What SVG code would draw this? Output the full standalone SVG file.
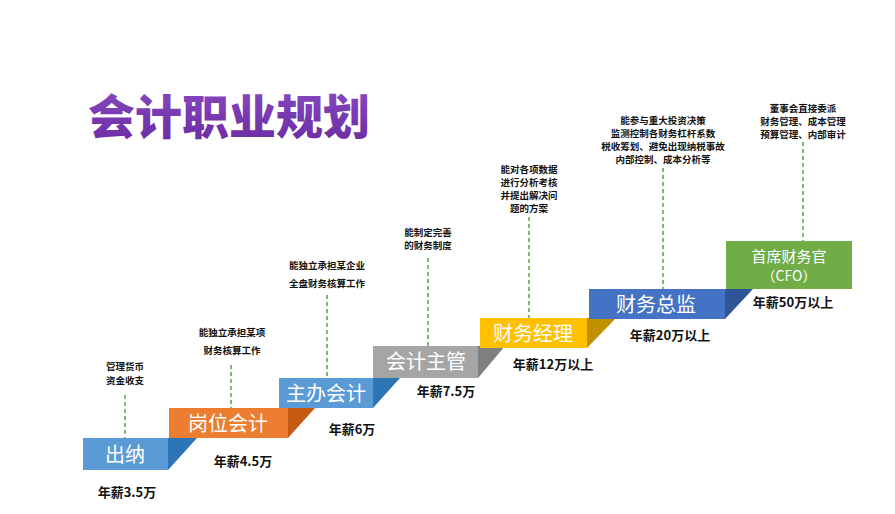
<svg xmlns="http://www.w3.org/2000/svg" width="895" height="514" viewBox="0 0 895 514">
<defs>
<linearGradient id="tg" x1="0" y1="0" x2="0" y2="1"><stop offset="0" stop-color="#8a4cc4"/><stop offset="1" stop-color="#6a2aa0"/></linearGradient>
<style>
.lbl{font-family:"Noto Sans CJK SC","Liberation Sans",sans-serif;fill:#fff;text-anchor:middle}
.d{font-family:"Noto Sans CJK SC",sans-serif;font-size:9.5px;font-weight:bold;fill:#111;text-anchor:middle}
.s{font-family:"Noto Sans CJK SC",sans-serif;font-size:13px;font-weight:bold;fill:#111;text-anchor:middle}
.c line{stroke:#5aa04a;stroke-width:1.5;stroke-dasharray:4 3}
</style>
</defs>
<rect width="895" height="514" fill="#fff"/>
<text x="88" y="134" font-family="Noto Sans CJK SC,sans-serif" font-size="47" font-weight="900" fill="url(#tg)">会计职业规划</text>
<g class="c">
<line x1="125" y1="395" x2="125" y2="438"/>
<line x1="231" y1="365" x2="231" y2="408"/>
<line x1="327" y1="295" x2="327" y2="378"/>
<line x1="428" y1="258" x2="428" y2="346"/>
<line x1="529" y1="217" x2="529" y2="318"/>
<line x1="663" y1="168" x2="663" y2="289"/>
<line x1="803" y1="142" x2="803" y2="241"/>
</g>
<g id="n1"><rect x="83" y="438" width="85" height="32" fill="#5b9bd5"/><polygon points="168,438 197,438 168,470" fill="#2e75b6"/><text class="lbl" x="125" y="462" font-size="20">出纳</text>
<text class="d" x="125" y="370">管理货币</text><text class="d" x="125" y="384">资金收支</text><text class="s" x="127" y="497">年薪3.5万</text></g>
<g id="n2"><rect x="169" y="408" width="119" height="30" fill="#ed7d31"/><polygon points="288,408 315,408 288,438" fill="#c55a11"/><text class="lbl" x="228" y="431" font-size="20">岗位会计</text>
<text class="d" x="232" y="336">能独立承担某项</text><text class="d" x="232" y="354">财务核算工作</text><text class="s" x="243" y="466">年薪4.5万</text></g>
<g id="n3"><rect x="279" y="378" width="94" height="30" fill="#5b9bd5"/><polygon points="373,378 400,378 373,408" fill="#2e75b6"/><text class="lbl" x="326" y="401" font-size="20">主办会计</text>
<text class="d" x="327" y="269">能独立承担某企业</text><text class="d" x="327" y="287">全盘财务核算工作</text><text class="s" x="352" y="434">年薪6万</text></g>
<g id="n4"><rect x="373" y="346" width="105" height="32" fill="#a5a5a5"/><polygon points="478,346 505,346 478,378" fill="#7f7f7f"/><text class="lbl" x="426" y="369" font-size="20">会计主管</text>
<text class="d" x="428" y="236">能制定完善</text><text class="d" x="428" y="249">的财务制度</text><text class="s" x="446" y="396">年薪7.5万</text></g>
<g id="n5"><rect x="480" y="318" width="107" height="30" fill="#ffc000"/><polygon points="587,318 616,318 587,348" fill="#bf9000"/><text class="lbl" x="533" y="341" font-size="20">财务经理</text>
<text class="d" x="529" y="173">能对各项数据</text><text class="d" x="529" y="186">进行分析考核</text><text class="d" x="529" y="199">并提出解决问</text><text class="d" x="529" y="212">题的方案</text><text class="s" x="553" y="369">年薪12万以上</text></g>
<g id="n6"><rect x="589" y="289" width="136" height="30" fill="#4472c4"/><polygon points="725,289 753,289 725,319" fill="#2f5597"/><text class="lbl" x="656" y="312" font-size="20">财务总监</text>
<text class="d" x="663" y="124">能参与重大投资决策</text><text class="d" x="663" y="137">监测控制各财务杠杆系数</text><text class="d" x="663" y="150">税收筹划、避免出现纳税事故</text><text class="d" x="663" y="163">内部控制、成本分析等</text><text class="s" x="670" y="340">年薪20万以上</text></g>
<g id="n7"><rect x="726" y="241" width="126" height="48" fill="#70ad47"/><text class="lbl" x="789" y="262" font-size="15">首席财务官</text><text class="lbl" x="789" y="281" font-size="14">（CFO）</text>
<text class="d" x="803" y="112">董事会直接委派</text><text class="d" x="803" y="125">财务管理、成本管理</text><text class="d" x="803" y="138">预算管理、内部审计</text><text class="s" x="793" y="307">年薪50万以上</text></g>
</svg>
